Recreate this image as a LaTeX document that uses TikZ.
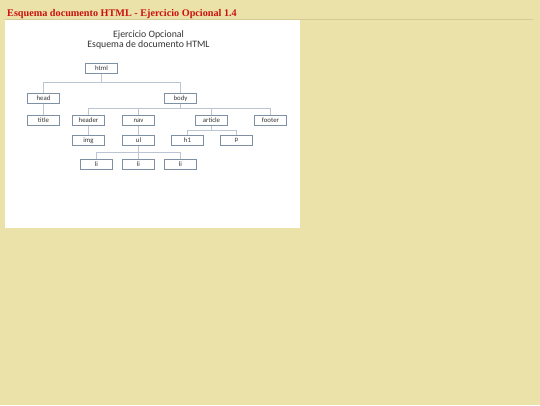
\documentclass[tikz,border=0pt]{standalone}
\usepackage{fontspec}
\setmainfont{Carlito}
\newfontfamily\hdfont{Liberation Serif}
\definecolor{bg}{HTML}{EAE2A8}
\definecolor{hdred}{HTML}{CC1111}
\definecolor{hdline}{HTML}{D4CA98}
\definecolor{boxc}{HTML}{7F90A4}
\definecolor{linec}{HTML}{BCC6D2}
\definecolor{txt}{HTML}{333333}
\begin{document}
\begin{tikzpicture}[x=1pt,y=-1pt,
  box/.style={draw=boxc, line width=1pt, fill=white, minimum width=32pt, minimum height=10pt, inner sep=0pt, font=\fontsize{6.8}{7}\selectfont, text=txt},
  conn/.style={draw=linec, line width=0.8pt},
  ttl/.style={font=\fontsize{9.8}{11}\selectfont, text=txt, inner sep=0pt}]
\fill[bg] (0,0) rectangle (540,405);
\useasboundingbox (0,0) rectangle (540,405);
\draw[hdline, line width=1pt] (5,19.5) -- (533,19.5);
\fill[white] (5,20) rectangle (300,228);
\node[anchor=base west, font=\hdfont\bfseries\fontsize{10.2}{12}\selectfont, text=hdred, inner sep=0pt] (hd) at (7,16) {Esquema documento HTML - Ejercicio Opcional 1.4};
\node[ttl] (t1) at (148.5,35) {Ejercicio Opcional};
\node[ttl] (t2) at (148.5,44.5) {Esquema de documento HTML};
% junctions
\coordinate (hj) at (101.5,82.5);
\coordinate (bj) at (180.5,108.5);
\coordinate (aj) at (211.5,130.5);
\coordinate (uj) at (138.5,152.5);
% boxes
\node[box] (html) at (101.5,68.5) {html};
\node[box] (head) at (43.5,98.5) {head};
\node[box] (body) at (180.5,98.5) {body};
\node[box] (title) at (43.5,120.5) {title};
\node[box] (header) at (88.5,120.5) {header};
\node[box] (nav) at (138.5,120.5) {nav};
\node[box] (article) at (211.5,120.5) {article};
\node[box] (footer) at (270.5,120.5) {footer};
\node[box] (img) at (88.5,140.5) {img};
\node[box] (ul) at (138.5,140.5) {ul};
\node[box] (h1) at (187.5,140.5) {h1};
\node[box] (p) at (236.5,140.5) {p};
\node[box] (li1) at (96.5,164.5) {li};
\node[box] (li2) at (138.5,164.5) {li};
\node[box] (li3) at (180.5,164.5) {li};
% connectors
\draw[conn] (html.south) -- (hj);
\draw[conn] (hj) -| (head.north);
\draw[conn] (hj) -| (body.north);
\draw[conn] (head.south) -- (title.north);
\draw[conn] (body.south) -- (bj);
\draw[conn] (bj) -| (header.north);
\draw[conn] (bj) -| (nav.north);
\draw[conn] (bj) -| (article.north);
\draw[conn] (bj) -| (footer.north);
\draw[conn] (header.south) -- (img.north);
\draw[conn] (nav.south) -- (ul.north);
\draw[conn] (article.south) -- (aj);
\draw[conn] (aj) -| (h1.north);
\draw[conn] (aj) -| (p.north);
\draw[conn] (ul.south) -- (uj);
\draw[conn] (uj) -| (li1.north);
\draw[conn] (uj) -| (li2.north);
\draw[conn] (uj) -| (li3.north);
\end{tikzpicture}
\end{document}
